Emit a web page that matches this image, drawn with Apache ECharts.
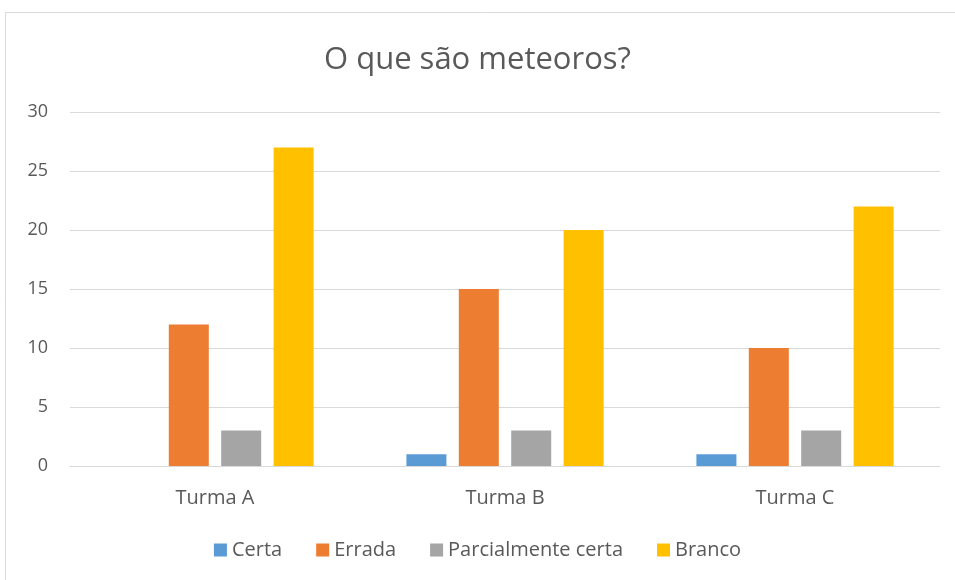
<!DOCTYPE html>
<html>
<head>
<meta charset="utf-8">
<script src="https://cdn.jsdelivr.net/npm/echarts@6/dist/echarts.min.js"></script>
<style>
    html, body { margin: 0; padding: 0; background: #fff; }
    #chart { width: 955px; height: 580px; }
</style>
</head>
<body>
<div id="chart"></div>
<script>
// dados do gráfico
const turmas = ["Turma A", "Turma B", "Turma C"];
const certa = [0, 1, 1];
const errada = [12, 15, 10];
const parcial = [3, 3, 3];
const branco = [27, 20, 22];

const fonte = "Open Sans";
const cinza = "#595959";

const chartDom = document.getElementById("chart");
const myChart = echarts.init(chartDom);

const barra = (nome, dados, cor) => ({
    name: nome,
    type: "bar",
    data: dados,
    barWidth: 40,
    barGap: "31%",
    itemStyle: { color: cor },
});

const option = {
    animation: false,
    graphic: [
        {
            type: "rect",
            shape: { x: 5.5, y: 12.5, width: 1000, height: 700 },
            style: { fill: "none", stroke: "#d9d9d9", lineWidth: 1 },
            z: -1,
        },
    ],
    title: {
        text: "O que são meteoros?",
        left: "center",
        top: 40,
        textStyle: {
            fontFamily: fonte,
            fontSize: 31,
            fontWeight: "normal",
            color: cinza,
        },
    },
    legend: {
        bottom: 15,
        left: "center",
        itemWidth: 13,
        itemHeight: 13,
        itemGap: 34,
        icon: "rect",
        textStyle: { fontFamily: fonte, fontSize: 20, color: cinza },
        data: ["Certa", "Errada", "Parcialmente certa", "Branco"],
    },
    grid: { left: 70, right: 15, top: 112, bottom: 114 },
    xAxis: {
        type: "category",
        data: turmas,
        axisLine: { lineStyle: { color: "#d9d9d9" } },
        axisTick: { show: false },
        axisLabel: {
            fontFamily: fonte,
            fontSize: 20,
            color: cinza,
            margin: 22,
        },
    },
    yAxis: {
        type: "value",
        min: 0,
        max: 30,
        interval: 5,
        axisLine: { show: false },
        axisTick: { show: false },
        splitLine: { lineStyle: { color: "#d9d9d9" } },
        axisLabel: {
            fontFamily: fonte,
            fontSize: 18,
            color: cinza,
            margin: 22,
        },
    },
    series: [
        barra("Certa", certa, "#5b9bd5"),
        barra("Errada", errada, "#ed7d31"),
        barra("Parcialmente certa", parcial, "#a5a5a5"),
        barra("Branco", branco, "#ffc000"),
    ],
};

myChart.setOption(option);
</script>
</body>
</html>
